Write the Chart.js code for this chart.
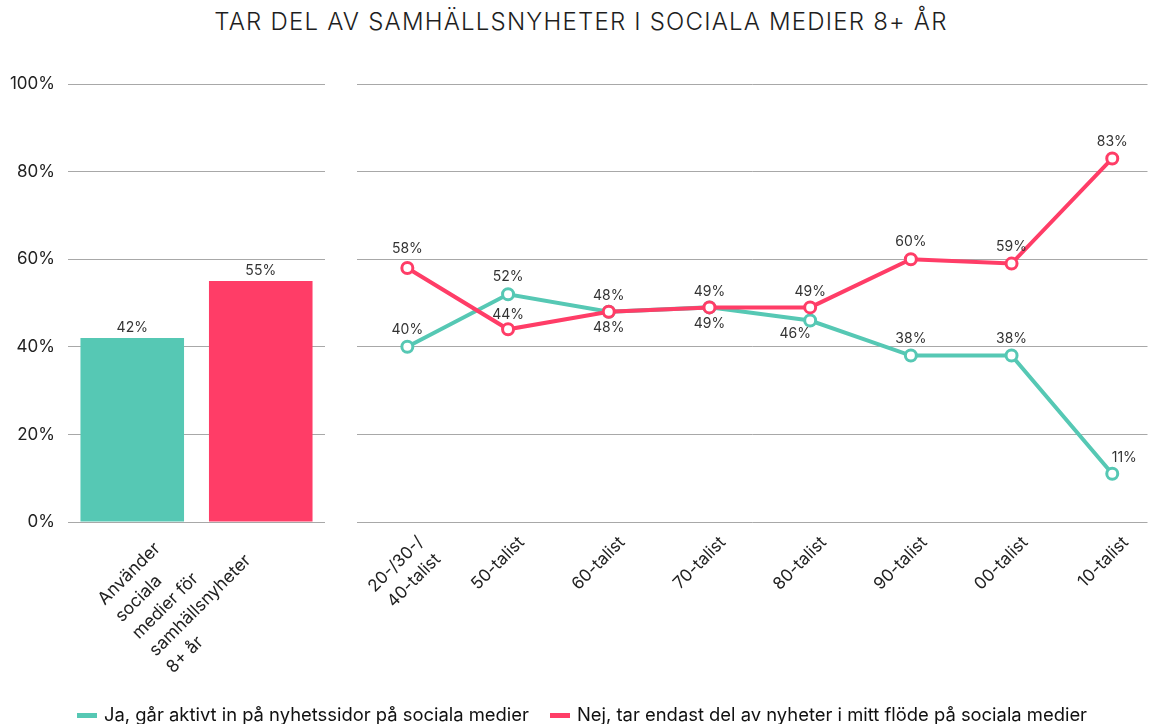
<!DOCTYPE html>
<html><head><meta charset="utf-8">
<script src="https://cdn.jsdelivr.net/npm/chart.js@4"></script>
<style>
html,body{margin:0;padding:0;background:#fff;overflow:hidden;width:1156px;height:724px;font-family:Inter,'Noto Sans',sans-serif;}
#title{position:absolute;left:0;width:1162px;top:7px;text-align:center;font-size:24px;color:#1e1e1e;font-weight:300;letter-spacing:1.2px;white-space:nowrap;}
#c1{position:absolute;left:0;top:0;}
#c2{position:absolute;left:340px;top:0;}
.lg{position:absolute;top:703px;font-size:18.4px;color:#111;white-space:nowrap;}
.sw{position:absolute;top:713px;width:20px;height:5px;}
</style></head>
<body>
<div id="title">TAR DEL AV SAMHÄLLSNYHETER I SOCIALA MEDIER 8+ ÅR</div>
<canvas id="c1" width="340" height="724"></canvas>
<canvas id="c2" width="816" height="724"></canvas>
<div class="sw" id="sw0" style="left:77px"></div><div class="lg" id="lg0" style="left:104px"></div>
<div class="sw" id="sw1" style="left:550px"></div><div class="lg" id="lg1" style="left:577px"></div>
<script>
// ---- data ----
const seriesNames = ["Ja, går aktivt in på nyhetssidor på sociala medier", "Nej, tar endast del av nyheter i mitt flöde på sociala medier"];
const barCategories = [["Använder", "sociala", "medier för", "samhällsnyheter", "8+ år"]];
const barJa = [42];
const barNej = [55];
const lineCategories = [["20-/30-/", "40-talist"], "50-talist", "60-talist", "70-talist", "80-talist", "90-talist", "00-talist", "10-talist"];
const lineJa = [40, 52, 48, 49, 46, 38, 38, 11];
const lineNej = [58, 44, 48, 49, 49, 60, 59, 83];
const yTicks = [0, 20, 40, 60, 80, 100];

// ---- styles ----
const GREEN = '#56C8B4';
const RED = '#FF3D67';
const FONT = 'Inter';
const jaLabelOffsets = [[0,-17],[0,-17],[0,16],[0,16],[-15,13],[0,-17],[0,-17],[12,-16]];
const nejLabelOffsets = [[0,-19],[0,-14],[0,-16],[0,-16],[0,-16],[0,-17],[0,-17],[0,-17]];

document.getElementById('sw0').style.background = GREEN;
document.getElementById('sw1').style.background = RED;
document.getElementById('lg0').textContent = seriesNames[0];
document.getElementById('lg1').textContent = seriesNames[1];

const valueLabels = {
  id: 'valueLabels',
  afterDatasetsDraw(chart) {
    const ctx = chart.ctx;
    ctx.save();
    ctx.font = '14px ' + FONT;
    ctx.fillStyle = '#333';
    ctx.textAlign = 'center';
    ctx.textBaseline = 'middle';
    chart.data.datasets.forEach((ds, di) => {
      const meta = chart.getDatasetMeta(di);
      const off = ds.labelOffsets || [];
      meta.data.forEach((el, i) => {
        const raw = ds.data[i];
        const v = (raw !== null && typeof raw === 'object') ? raw.y : raw;
        const o = off[i] || [0, -17];
        ctx.fillText(v + '%', el.x + o[0], el.y + o[1]);
      });
    });
    ctx.restore();
  }
};

// rotated (45°) category labels drawn at the x scale's tick pixels
const rotLabels = {
  id: 'rotLabels',
  afterDraw(chart, args, opts) {
    const scale = chart.scales.x;
    const ctx = chart.ctx;
    ctx.save();
    ctx.font = opts.size + 'px ' + FONT;
    ctx.fillStyle = '#222';
    ctx.textAlign = opts.align;
    ctx.textBaseline = 'middle';
    opts.labels.forEach((lab, i) => {
      const lines = Array.isArray(lab) ? lab : [lab];
      const x = scale.getPixelForTick(i);
      ctx.save();
      ctx.translate(x, scale.top);
      ctx.rotate(-Math.PI / 4);
      lines.forEach((ln, j) => ctx.fillText(ln, opts.u, opts.v + j * opts.lineHeight));
      ctx.restore();
    });
    ctx.restore();
  }
};

const yScale = (showTicks) => ({
  min: 0, max: 100,
  afterBuildTicks(s) { s.ticks = yTicks.map(v => ({value: v})); },
  ticks: {display: showTicks, callback: v => v + '%', font: {size: 17, family: FONT}, color: '#222', padding: 13},
  grid: {color: '#a8a8a8', lineWidth: 1, drawTicks: false},
  border: {display: false},
  afterFit(s) { s.width = showTicks ? 68 : 0; }
});

new Chart(document.getElementById('c1'), {
  type: 'bar',
  data: {
    labels: barCategories,
    datasets: [
      {label: seriesNames[0], data: barJa, backgroundColor: GREEN, categoryPercentage: 1.0, barPercentage: 0.806, labelOffsets: [[0,-10]]},
      {label: seriesNames[1], data: barNej, backgroundColor: RED, categoryPercentage: 1.0, barPercentage: 0.806, labelOffsets: [[0,-10]]}
    ]
  },
  options: {
    responsive: false, animation: false,
    layout: {padding: {top: 84, left: 0, right: 15, bottom: 0}},
    plugins: {legend: {display: false}, tooltip: {enabled: false},
      rotLabels: {labels: barCategories, size: 17.5, align: 'left', u: -124, v: -11, lineHeight: 24.2}},
    scales: {
      x: {
        grid: {display: false}, border: {display: false},
        ticks: {display: false},
        afterFit(s) { s.height = 202; }
      },
      y: yScale(true)
    }
  },
  plugins: [valueLabels, rotLabels]
});

new Chart(document.getElementById('c2'), {
  type: 'line',
  data: {
    datasets: [
      {label: seriesNames[0], data: lineJa.map((v, i) => ({x: i, y: v})), order: 1, borderColor: GREEN, backgroundColor: GREEN,
       borderWidth: 4, pointRadius: 5.5, pointBorderWidth: 3, pointBackgroundColor: '#fff', pointBorderColor: GREEN, tension: 0, labelOffsets: jaLabelOffsets},
      {label: seriesNames[1], data: lineNej.map((v, i) => ({x: i, y: v})), order: 0, borderColor: RED, backgroundColor: RED,
       borderWidth: 4, pointRadius: 5.5, pointBorderWidth: 3, pointBackgroundColor: '#fff', pointBorderColor: RED, tension: 0, labelOffsets: nejLabelOffsets}
    ]
  },
  options: {
    responsive: false, animation: false,
    layout: {padding: {top: 84, left: 17, right: 8, bottom: 0}},
    plugins: {legend: {display: false}, tooltip: {enabled: false},
      rotLabels: {labels: lineCategories, size: 17, align: 'right', u: -3, v: 22, lineHeight: 24}},
    scales: {
      x: {
        type: 'linear', min: -0.5, max: 7.35,
        afterBuildTicks(s) { s.ticks = lineCategories.map((c, i) => ({value: i})); },
        grid: {display: false}, border: {display: false},
        ticks: {display: false},
        afterFit(s) { s.height = 202; }
      },
      y: yScale(false)
    }
  },
  plugins: [valueLabels, rotLabels]
});
</script>
</body></html>
